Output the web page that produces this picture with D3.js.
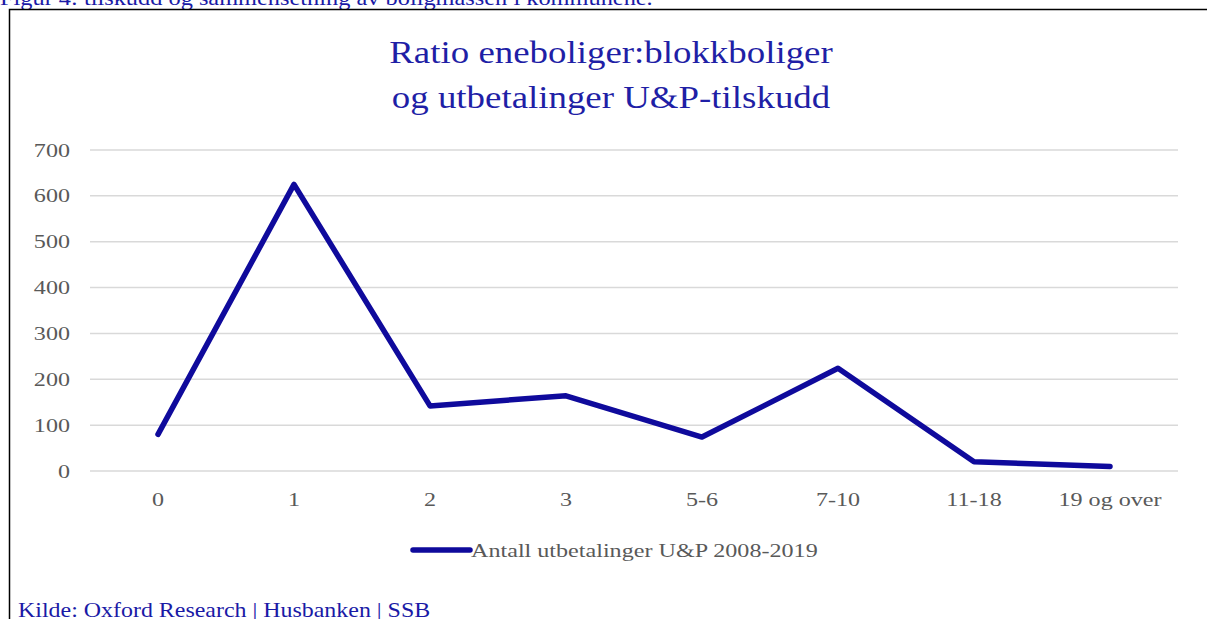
<!DOCTYPE html>
<html>
<head>
<meta charset="utf-8">
<script src="https://d3js.org/d3.v7.min.js"></script>
<style>
body { margin: 0; background: #fff; }
text { font-family: "Liberation Serif", "Times New Roman", serif; }
.grid line { stroke: #d9d9d9; stroke-width: 1.5; }
.axis text { fill: #595959; font-size: 19px; }
</style>
</head>
<body>
<div id="chart"></div>
<script>
// data
var categories = ["0", "1", "2", "3", "5-6", "7-10", "11-18", "19 og over"];
var payouts = [80, 625, 142, 164, 74, 224, 20, 10];
var yTicks = [0, 100, 200, 300, 400, 500, 600, 700];
var seriesName = "Antall utbetalinger U&P 2008-2019";
var titleLines = ["Ratio eneboliger:blokkboliger", "og utbetalinger  U&P-tilskudd"];

var W = 1207, H = 619;
var margin = {top: 150, left: 90, right: 29, bottom: 148};
var width = W - margin.left - margin.right;
var height = H - margin.top - margin.bottom;

// the source picture is a bit wider than tall, so text gets stretched sideways
function stretch(sel, s) {
  sel.each(function() {
    var t = d3.select(this);
    var tx = +t.attr("x") || 0;
    t.attr("x", 0).attr("transform", "translate(" + tx + ",0) scale(" + s + ",1)");
  });
}

var svg = d3.select("#chart").append("svg")
  .attr("width", W)
  .attr("height", H);

// caption cut off at the top
svg.append("text")
  .attr("x", 0).attr("y", 5)
  .attr("fill", "#1a1aa6")
  .style("font-size", "21px")
  .text("Figur 4: tilskudd og sammensetning av boligmassen i kommunene.")
  .call(stretch, 1.16);

// frame
svg.append("path")
  .attr("d", "M9.5," + H + "V9.5H" + W)
  .attr("fill", "none")
  .attr("stroke", "#000")
  .attr("stroke-width", 1.5);

svg.selectAll(".title")
  .data(titleLines)
  .enter().append("text")
  .attr("class", "title")
  .attr("x", 611)
  .attr("y", function(d, i) { return 63 + i * 45; })
  .attr("text-anchor", "middle")
  .attr("fill", "#1f1fa6")
  .style("font-size", "31px")
  .text(function(d) { return d; })
  .call(stretch, 1.19);

var g = svg.append("g")
  .attr("transform", "translate(" + margin.left + "," + margin.top + ")");

var x = d3.scaleBand().domain(categories).range([0, width]);
var y = d3.scaleLinear().domain([0, 700]).range([height, 0]);

g.append("g").attr("class", "grid")
  .selectAll("line")
  .data(yTicks)
  .enter().append("line")
  .attr("x1", 0).attr("x2", width)
  .attr("y1", function(d) { return y(d); })
  .attr("y2", function(d) { return y(d); });

var yAxis = g.append("g").attr("class", "axis")
  .call(d3.axisLeft(y).tickValues(yTicks).tickSize(0).tickPadding(20));
yAxis.select(".domain").remove();
yAxis.selectAll("text").call(stretch, 1.27);

var xAxis = g.append("g").attr("class", "axis")
  .attr("transform", "translate(0," + height + ")")
  .call(d3.axisBottom(x).tickSize(0).tickPadding(22));
xAxis.select(".domain").remove();
xAxis.selectAll("text").call(stretch, 1.27);

var line = d3.line()
  .x(function(d, i) { return x(categories[i]) + x.bandwidth() / 2; })
  .y(function(d) { return y(d); });

g.append("path")
  .datum(payouts)
  .attr("d", line)
  .attr("fill", "none")
  .attr("stroke", "#0f0a9c")
  .attr("stroke-width", 5.5)
  .attr("stroke-linecap", "round")
  .attr("stroke-linejoin", "round");

// legend
var lg = svg.append("g").attr("transform", "translate(413,550)");
lg.append("line")
  .attr("x1", 0).attr("x2", 57)
  .attr("stroke", "#0f0a9c").attr("stroke-width", 5.5)
  .attr("stroke-linecap", "round");
lg.append("text")
  .attr("x", 58).attr("y", 7)
  .attr("fill", "#595959")
  .style("font-size", "19px")
  .text(seriesName)
  .call(stretch, 1.27);

svg.append("text")
  .attr("x", 18).attr("y", 617)
  .attr("fill", "#1a1aa6")
  .style("font-size", "21px")
  .text("Kilde: Oxford Research | Husbanken | SSB")
  .call(stretch, 1.14);
</script>
</body>
</html>
